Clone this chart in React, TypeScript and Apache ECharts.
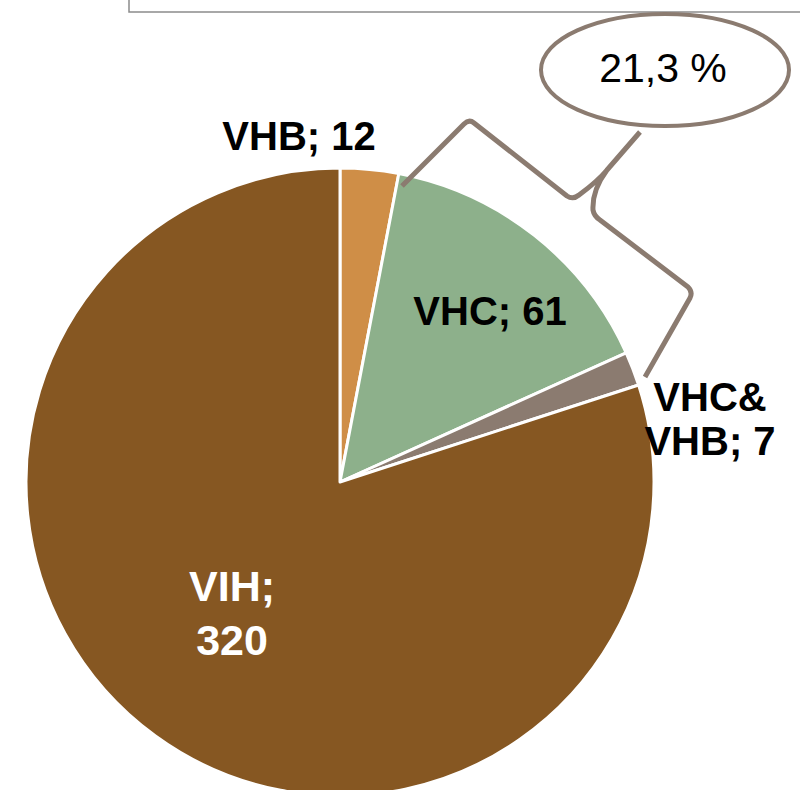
import React, { useEffect, useRef } from "react";
import * as echarts from "echarts";

const categories = ["VHB", "VHC", "VHC&VHB", "VIH"];
const values = [12, 61, 7, 320];
const sliceColors = ["#CF8E47", "#8DB08B", "#8B7B70", "#865722"];
const calloutText = "21,3 %";

const FONT = "'Liberation Sans', Arial, Helvetica, sans-serif";

// label placement (layout only)
const labelPos: Record<string, { x: number; y: number }> = {
  VHB: { x: 299, y: 136 },
  VHC: { x: 490, y: 311 },
  "VHC&VHB": { x: 710, y: 419 },
  VIH: { x: 232, y: 613 },
};

const bracePath =
  "M402 186 L464 124 Q469 119 474 123 L567 196 Q573 200 579 195 Q598 181 607 170 L640 132 M607 170 Q592 190 593 210 Q594 216 600 220 L688 287 Q693 292 690 298 L645 377";

let registered = false;

export default function App() {
  const ref = useRef<HTMLDivElement>(null);

  useEffect(() => {
    document.body.style.margin = "0";
    if (!registered) {
      echarts.graphic.registerShape(
        "brace",
        echarts.graphic.extendPath(bracePath, {}) as any
      );
      registered = true;
    }
    const chart = echarts.init(ref.current!, null, { renderer: "svg" });
    const data = categories.map((name, i) => ({
      name,
      value: values[i],
      itemStyle: { color: sliceColors[i] },
      label:
        name === "VIH"
          ? { color: "#ffffff", fontSize: 43, lineHeight: 54 }
          : name === "VHC&VHB"
          ? { color: "#000000", fontSize: 40, lineHeight: 44 }
          : { color: "#000000", fontSize: 40, lineHeight: 46 },
    }));

    chart.setOption({
      animation: false,
      backgroundColor: "#ffffff",
      series: [
        {
          type: "pie",
          center: [340, 482],
          radius: 314,
          startAngle: 90,
          clockwise: true,
          avoidLabelOverlap: false,
          itemStyle: { borderColor: "#ffffff", borderWidth: 3 },
          label: {
            show: true,
            position: "inside",
            fontFamily: FONT,
            fontWeight: "bold",
            formatter: (p: any) => {
              if (p.name === "VHC&VHB") return "VHC&\nVHB; " + p.value;
              if (p.name === "VIH") return p.name + ";\n" + p.value;
              return p.name + "; " + p.value;
            },
          },
          labelLine: { show: false },
          labelLayout: (params: any) => {
            const name = categories[params.dataIndex];
            const pos = labelPos[name];
            return { x: pos.x, y: pos.y, align: "center", verticalAlign: "middle" };
          },
          emphasis: { disabled: true },
          data,
        },
      ],
      graphic: [
        {
          type: "rect",
          shape: { x: 129, y: -20, width: 720, height: 32 },
          style: { fill: "none", stroke: "#8C8C8C", lineWidth: 1.5 },
          z: 10,
        },
        {
          type: "brace",
          x: 0,
          y: 0,
          style: { fill: "none", stroke: "#8B7B70", lineWidth: 5, lineJoin: "round", lineCap: "butt" },
          z: 10,
        },
        {
          type: "ellipse",
          shape: { cx: 665, cy: 70, rx: 124, ry: 56 },
          style: { fill: "#ffffff", stroke: "#8B7B70", lineWidth: 4 },
          z: 11,
        },
        {
          type: "text",
          x: 663,
          y: 68,
          style: {
            text: calloutText,
            fill: "#000000",
            font: "41px " + FONT,
            align: "center",
            verticalAlign: "middle",
          },
          z: 12,
        },
      ],
    });
    return () => chart.dispose();
  }, []);

  return <div ref={ref} style={{ width: 800, height: 790 }} />;
}
